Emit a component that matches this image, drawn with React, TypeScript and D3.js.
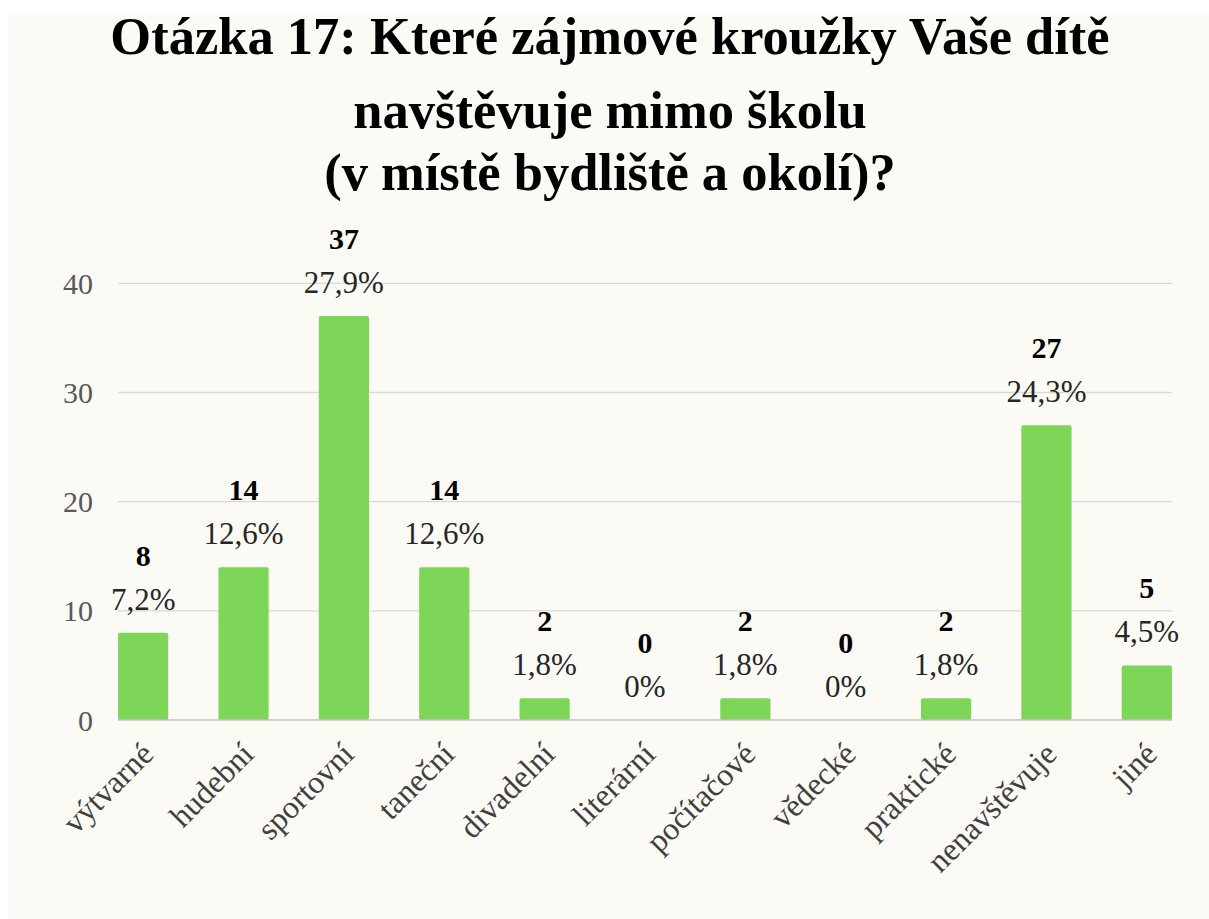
import React from "react";
import * as d3 from "d3";

const titleLines = [
  "Otázka 17: Které zájmové kroužky Vaše dítě",
  "navštěvuje mimo školu",
  "(v místě bydliště a okolí)?",
];
const categories = [
  "výtvarné",
  "hudební",
  "sportovní",
  "taneční",
  "divadelní",
  "literární",
  "počítačové",
  "vědecké",
  "praktické",
  "nenavštěvuje",
  "jiné",
];
const counts = [8, 14, 37, 14, 2, 0, 2, 0, 2, 27, 5];
const percents = ["7,2%", "12,6%", "27,9%", "12,6%", "1,8%", "0%", "1,8%", "0%", "1,8%", "24,3%", "4,5%"];
const yTicks = [0, 10, 20, 30, 40];

const W = 1209;
const H = 919;
const SERIF = "'Liberation Serif', 'Times New Roman', serif";

export default function App() {
  const x = d3.scaleBand<string>().domain(categories).range([93, 1197]).paddingInner(0.5).paddingOuter(0.25);
  const y = d3.scaleLinear().domain([0, 40]).range([720, 283.3]);
  const gx0 = x(categories[0])!;
  const gx1 = x(categories[categories.length - 1])! + x.bandwidth();

  return (
    <svg width={W} height={H} style={{ position: "absolute", left: 0, top: 0, display: "block" }}>
      <rect x={0} y={0} width={W} height={H} fill="#ffffff" />
      <rect x={8} y={13} width={W - 8} height={H - 13} fill="#fcfaf5" />
      {titleLines.map((t, i) => (
        <text
          key={i}
          x={610}
          y={[54, 128, 190][i]}
          textAnchor="middle"
          fontFamily={SERIF}
          fontWeight="bold"
          fontSize={52.5}
          fill="#000"
        >
          {t}
        </text>
      ))}
      {yTicks.map((t) => (
        <g key={t}>
          {t !== 0 && (
            <line x1={gx0} x2={gx1} y1={y(t)} y2={y(t)} stroke="#d9d9d9" strokeWidth={1.3} />
          )}
          <text
            x={93}
            y={y(t)}
            dy="0.35em"
            textAnchor="end"
            fontFamily={SERIF}
            fontSize={30}
            fill="#595959"
          >
            {t}
          </text>
        </g>
      ))}
      {categories.map((c, i) => {
        const bx = x(c)!;
        const cx = bx + x.bandwidth() / 2;
        const v = counts[i];
        const top = y(v);
        return (
          <g key={c}>
            {v > 0 && (
              <rect x={bx} y={top} width={x.bandwidth()} height={y(0) - top} rx={2} fill="#7dd657" />
            )}
            <text x={cx} y={top - 23} textAnchor="middle" fontFamily={SERIF} fontSize={31} fill="#262626">
              {percents[i]}
            </text>
            <text
              x={cx}
              y={top - 67}
              textAnchor="middle"
              fontFamily={SERIF}
              fontWeight="bold"
              fontSize={30}
              fill="#000"
            >
              {v}
            </text>
            <text
              transform={`translate(${cx + 12},${756}) rotate(-45)`}
              textAnchor="end"
              fontFamily={SERIF}
              fontSize={32}
              fill="#404040"
            >
              {c}
            </text>
          </g>
        );
      })}
      <line x1={gx0} x2={gx1} y1={y(0)} y2={y(0)} stroke="#bfbfbf" strokeWidth={1.5} />
    </svg>
  );
}
